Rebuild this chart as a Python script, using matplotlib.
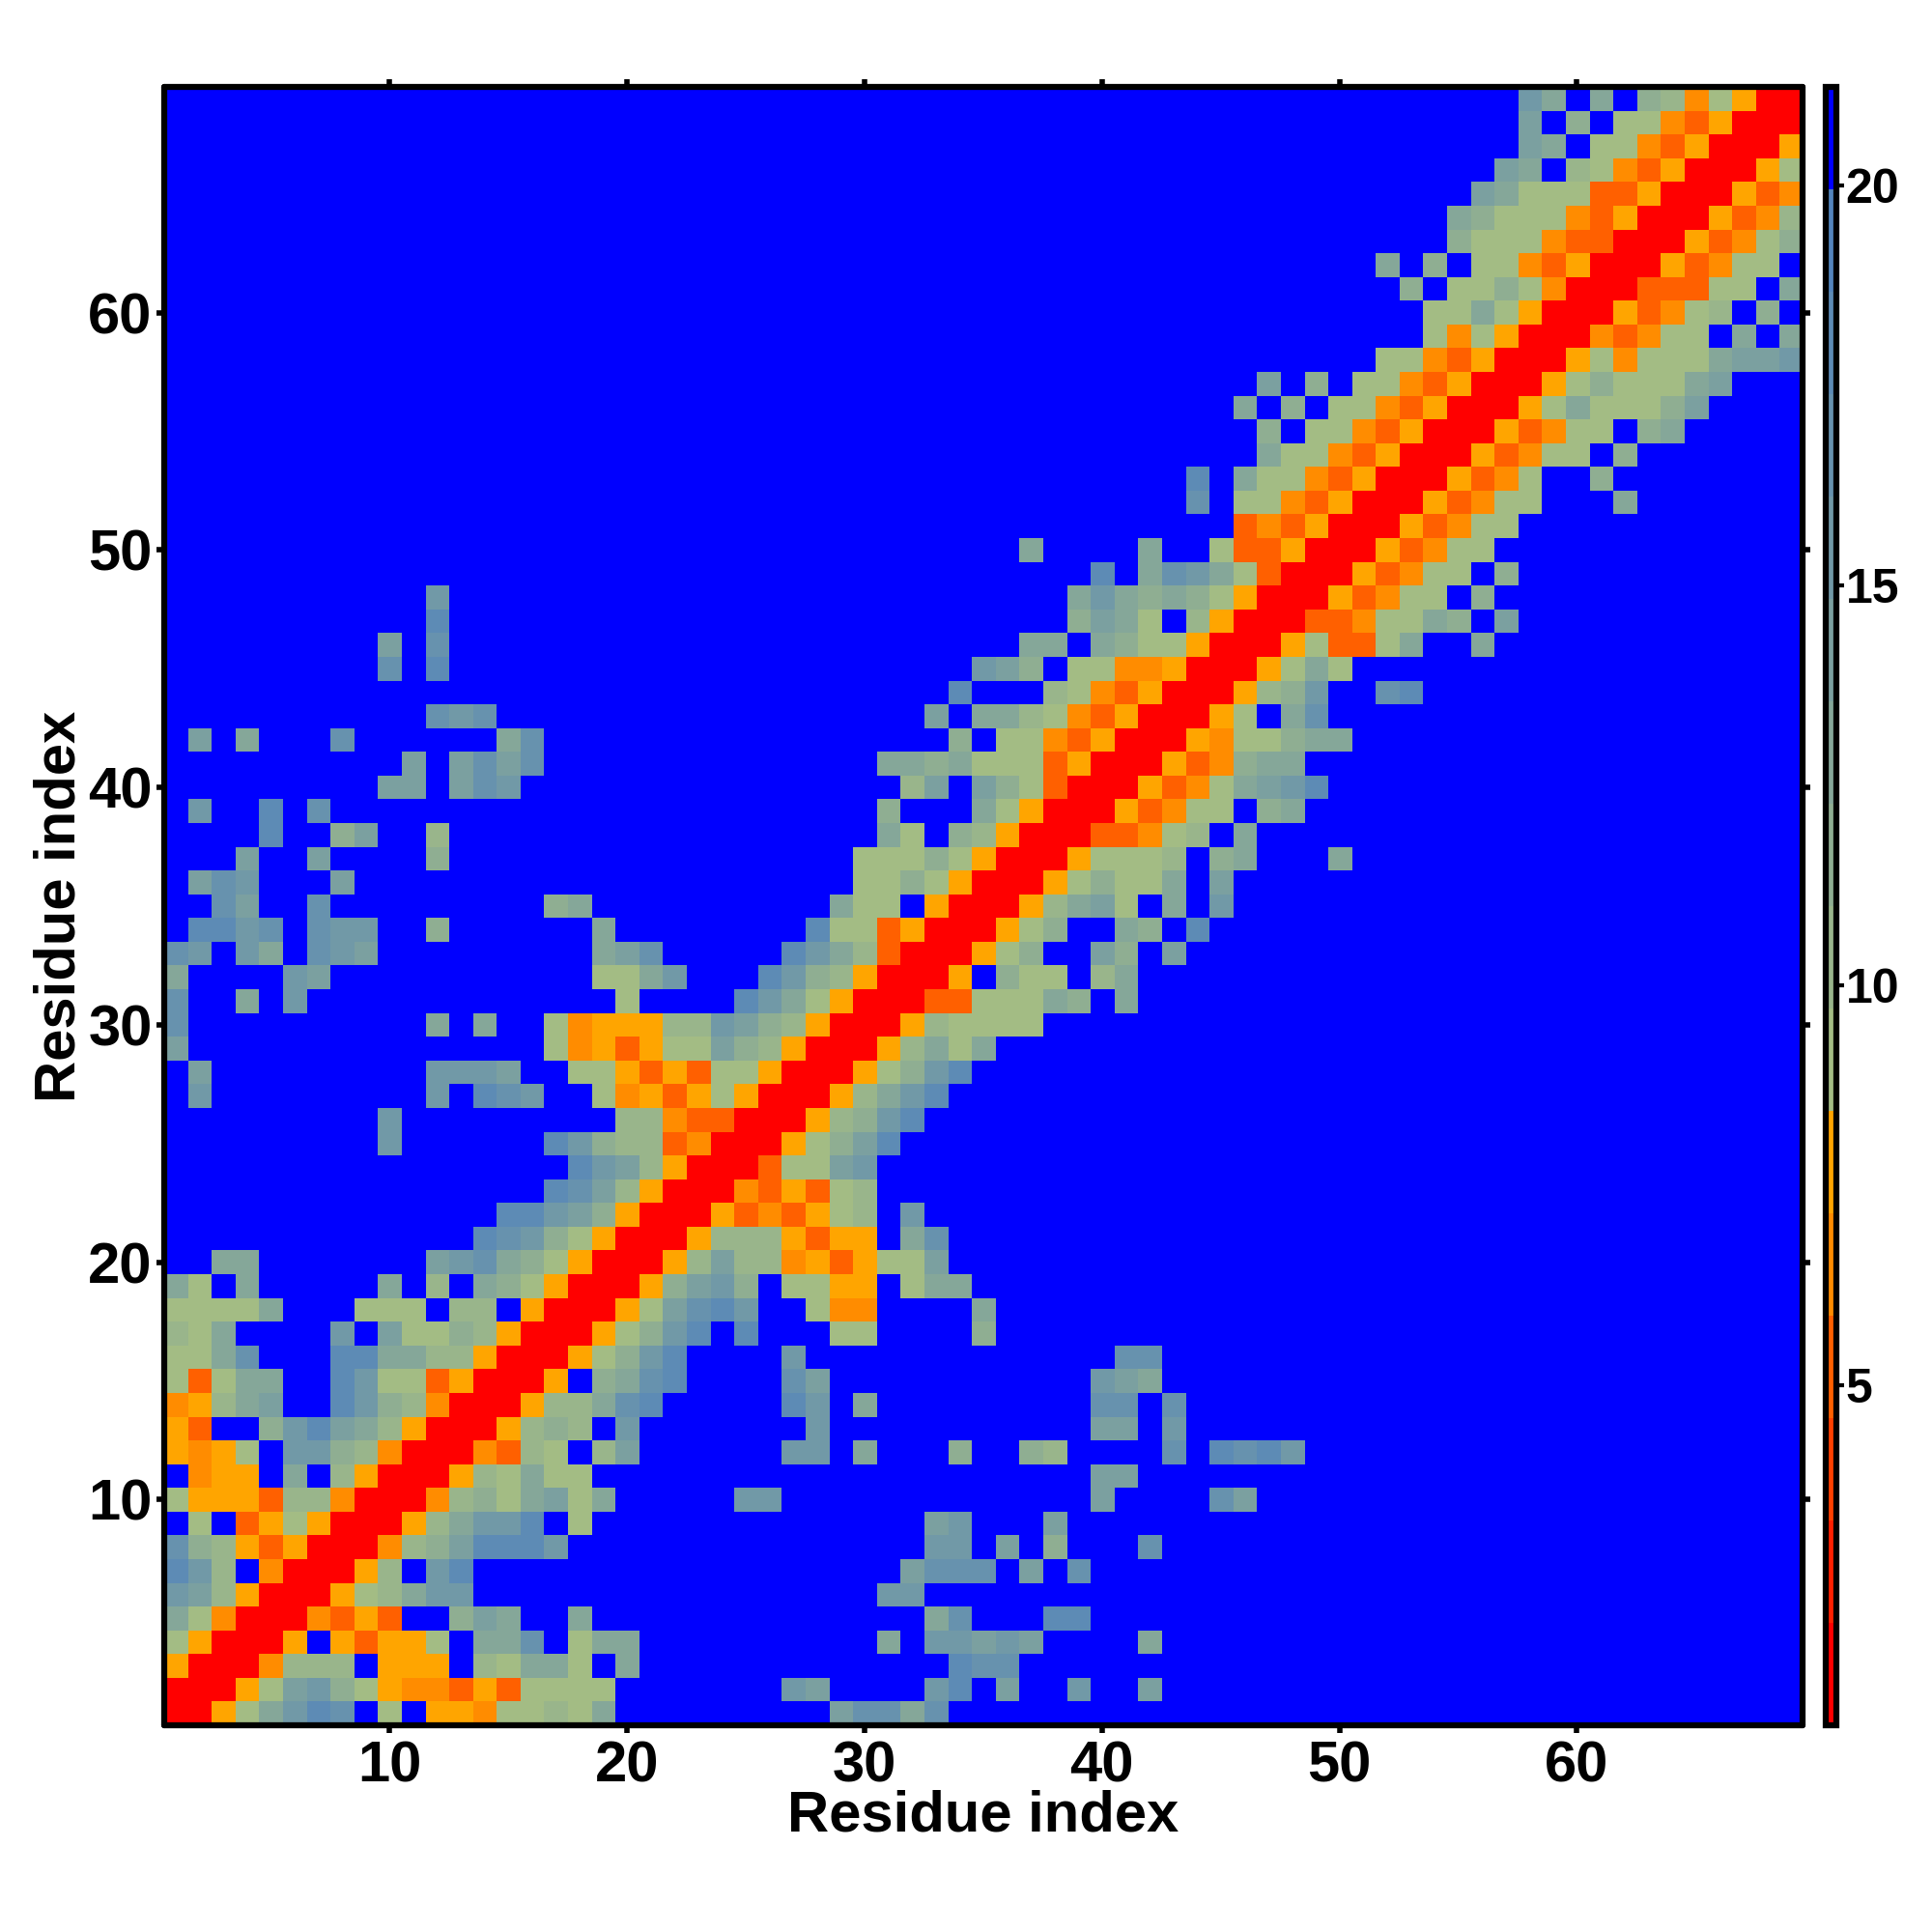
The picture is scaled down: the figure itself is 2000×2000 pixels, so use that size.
import numpy as np
import matplotlib
matplotlib.use("Agg")
import matplotlib.pyplot as plt
from matplotlib.colors import ListedColormap, BoundaryNorm

# distance-map rows: row y lists residues x = 1..y; the map is symmetric
rows = [
 "R",
 "RR",
 "3RR",
 "a3RR",
 "da2RR",
 "feb3RR",
 "hfb.2RR",
 "gcb313RR",
 ".a.13a3RR",
 "a3331bb2RR",
 ".233.d.b3RR",
 "323a.ffcb2RR",
 "31..cfhedb3RR",
 "23bde..hfcb2RR",
 "a1add..hfaa13RR",
 "aadg...hhddbb3RR",
 "bad....f.eaacb3RR",
 "aaaad...aaa.bb.3RR",
 "da.d.....d.b.dca3RR",
 "..dd.......efgdca3RR",
 "."*13 + "hgfca3RR",
 "."*14 + "hhfec3RR",
 "."*16 + "hgeb3RR",
 "."*17 + "hfeb3RR",
 "."*9 + "f" + "."*6 + "hfcbb12RR",
 "."*9 + "f" + "."*9 + "bb211RR",
 ".f" + "."*9 + "f.hgf..a2313a3RR",
 ".e" + "."*9 + "fffe..aa3131aa3RR",
 "e" + "."*15 + "a2313aaecb3RR",
 "g" + "."*10 + "d.d..a2333bbfecb3RR",
 "g..d.f" + "."*13 + "a....hfda3RR",
 "d....fe" + "."*11 + "aadf...hfcb3RR",
 "gf.fd.gfe" + "."*9 + "deg.....hfdb1RR",
 ".hhfg.gff..c" + "."*6 + "d" + "."*8 + "haa13RR",
 "..ge..g" + "."*9 + "cd" + "."*10 + "daa.3RR",
 ".egf...e" + "."*21 + "aaca3RR",
 "...e..e....c" + "."*17 + "aaaca3RR",
 "....h..ce..b" + "."*18 + "da.cb3RR",
 ".f..h.g" + "."*23 + "c...da3RR",
 "."*9 + "ee.egf" + "."*16 + "be.eca1RR",
 "."*10 + "e.egeg" + "."*14 + "ddcdaaa13RR",
 ".e.d...g" + "."*6 + "dg" + "."*17 + "c.aa213RR",
 "."*11 + "gfg" + "."*18 + "e.ddba213RR",
 "."*33 + "h...ba213RR",
 "."*9 + "g.h" + "."*22 + "fec.aa223RR",
 "."*9 + "e.g" + "."*24 + "dd.dcaa3RR",
 "."*11 + "h" + "."*26 + "ceda.b3RR",
 "."*11 + "f" + "."*26 + "dfdcdca3RR",
 "."*39 + "h.dgfda1RR",
 "."*36 + "d....d..a113RR",
 "."*45 + "1213RR",
 "."*43 + "g.aa213RR",
 "."*43 + "h.daa213RR",
 "."*46 + "daa213RR",
 "."*46 + "c.aa213RR",
 "."*45 + "d.c.aa213RR",
 "."*46 + "e.c.aa213RR",
 "."*51 + "aa213RR",
 "."*53 + "a2a3RR",
 "."*53 + "aada3RR",
 "."*52 + "c.aaca2RR",
 "."*51 + "d.c.aa213RR",
 "."*54 + "caaa211RR",
 "."*54 + "dcaaa213RR",
 "."*55 + "edaaa113RR",
 "."*56 + "ed.ba213RR",
 "."*57 + "ed.aa213RR",
 "."*57 + "e.c.aa213RR",
 "."*57 + "fd.d.cb2a3RR",
]

level_values = {"R": 1.4, "q": 2.7, "p": 4.0, "1": 5.2, "2": 6.5, "3": 7.8,
                "a": 9.1, "b": 10.4, "c": 11.7, "d": 13.0, "e": 14.2,
                "f": 15.5, "g": 16.8, "h": 18.1, "i": 19.4, ".": 20.7}
bounds = [0.75, 2.03, 3.31, 4.59, 5.87, 7.15, 8.43, 9.71, 10.99, 12.27,
          13.55, 14.83, 16.11, 17.39, 18.67, 19.95, 21.23]
colors = ["#FF0000", "#FF2000", "#FF4000", "#FF6000", "#FF8C00", "#FFA500",
          "#A3BC84", "#99B58B", "#8FAE92", "#85A799", "#7BA0A0", "#7199A7",
          "#6792AE", "#5D8BB5", "#5384BC", "#0000FF"]
x_ticks = [10, 20, 30, 40, 50, 60]
cbar_ticks = [5, 10, 15, 20]
axis_label = "Residue index"

n = len(rows)
dist = np.zeros((n, n))
for i, r in enumerate(rows):
    for j, ch in enumerate(r):
        dist[i, j] = dist[j, i] = level_values[ch]

plt.rcParams["font.family"] = ["Liberation Sans", "DejaVu Sans"]
plt.rcParams["font.weight"] = "bold"

W = 2000.0
fig = plt.figure(figsize=(20, 20), dpi=100, facecolor="white")
ax = fig.add_axes([169.5 / W, 1 - 1786 / W, (1866 - 169.5) / W, (1786 - 90) / W])
cmap = ListedColormap(colors)
norm = BoundaryNorm(bounds, cmap.N)
im = ax.imshow(dist, origin="lower", extent=(0.5, n + 0.5, 0.5, n + 0.5),
               cmap=cmap, norm=norm, aspect="auto", interpolation="nearest")
ax.set_xticks(x_ticks)
ax.set_yticks(x_ticks)
ax.tick_params(axis="both", which="major", direction="out", length=6, width=4,
               top=True, right=True, labelsize=43)
ax.tick_params(axis="x", pad=5)
ax.tick_params(axis="y", pad=2.5)
for s in ax.spines.values():
    s.set_linewidth(4.5)
    s.set_capstyle("round")
ax.set_xlabel(axis_label, fontsize=43, fontweight="bold", labelpad=-2.5)
ax.set_ylabel(axis_label, fontsize=43, fontweight="bold", labelpad=1)

cax = fig.add_axes([1889.7 / W, 1 - 1786 / W, 11 / W, (1786 - 90) / W])
cb = fig.colorbar(im, cax=cax, ticks=cbar_ticks, spacing="proportional", drawedges=False)
cb.outline.set_linewidth(4.5)
cb.ax.tick_params(length=6, width=3, labelsize=36, pad=1)
cb.minorticks_off()

fig.savefig("out.png", dpi=100)
